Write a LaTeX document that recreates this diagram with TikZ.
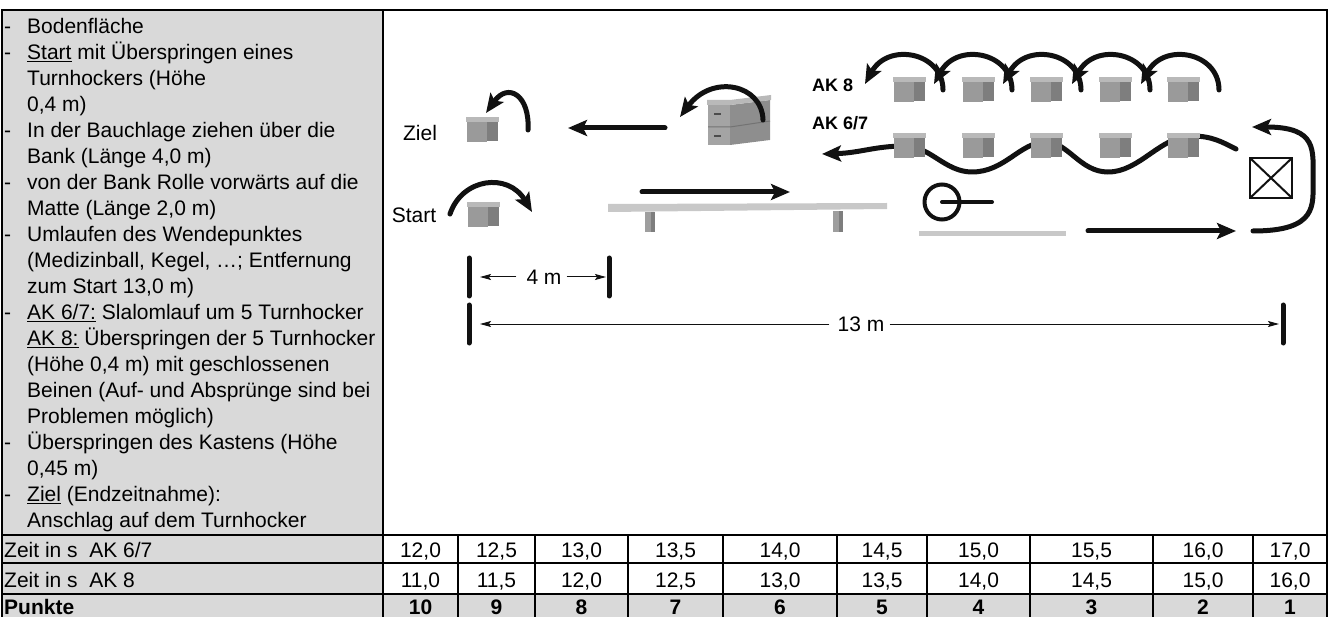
\documentclass[tikz,border=0pt]{standalone}
\usepackage{fontspec}
\setmainfont{Liberation Sans}
\usetikzlibrary{arrows.meta}

\definecolor{zellgrau}{HTML}{D9D9D9}
\definecolor{hockerdeckel}{HTML}{B9B9B9}
\definecolor{hockerfront}{HTML}{9A9A9A}
\definecolor{hockerseite}{HTML}{7E7E7E}
\definecolor{kastenseite}{HTML}{8E8E8E}
\definecolor{bankgrau}{HTML}{C8C8C8}
\definecolor{beingrau}{HTML}{9E9E9E}
\definecolor{laufschwarz}{HTML}{111111}

\newcommand{\fliess}{\fontsize{21}{26}\selectfont}
\newcommand{\strich}{\llap{-\hspace{16pt}}}
% Turnhocker, linke obere Ecke bei (#1,#2)
\newcommand{\turnhocker}[2]{%
  \begin{scope}[shift={(#1,#2)}]
    \fill[hockerfront] (1,5) rectangle (21,25);
    \fill[hockerseite] (21,5) rectangle (32,24);
    \fill[hockerdeckel] (0,0) rectangle (33,5);
  \end{scope}}

\tikzset{every node/.style={inner sep=0pt, font=\fliess},
 lauf/.style={draw=laufschwarz, line width=5pt, line cap=round,
   -{Stealth[length=19pt,width=16pt,inset=4pt]}},
 mass/.style={draw=laufschwarz, line width=1pt,
   -{Stealth[length=11pt,width=6pt,inset=2pt]}},
 marke/.style={draw=laufschwarz, line width=5pt, line cap=round},
 rahmen/.style={draw=black, line width=2pt},
 gitter/.style={draw=black, line width=1.5pt},
 ak/.style={font=\fontsize{18}{20}\selectfont\bfseries},
 }

\begin{document}
\begin{tikzpicture}[x=1pt,y=-1pt]
  \useasboundingbox (0,0) rectangle (1332,617);

  % Tabelle
  \fill[zellgrau] (2,10) rectangle (383,617);
  \fill[zellgrau] (383,594) rectangle (1327,617);
  \draw[gitter] (2,535) -- (1327,535);
  \draw[gitter] (2,563) -- (1327,563);
  \draw[gitter] (2,594) -- (1327,594);
  \foreach \x in {458,535,628,723,837,927,1030,1153,1253}
    \draw[gitter] (\x,535) -- (\x,617);
  \draw[rahmen] (2,617) -- (2,10) -- (1327,10) -- (1327,617);
  \draw[rahmen] (383,10) -- (383,617);

  \node[anchor=north west, align=left] (liste) at (27,15.5) {%
    \strich\strut Bodenfläche\\
    \strich\underline{Start} mit Überspringen eines\\
    Turnhockers (Höhe\\
    0,4 m)\\
    \strich In der Bauchlage ziehen über die\\
    Bank (Länge 4,0 m)\\
    \strich von der Bank Rolle vorwärts auf die\\
    Matte (Länge 2,0 m)\\
    \strich Umlaufen des Wendepunktes\\
    (Medizinball, Kegel, …; Entfernung\\
    zum Start 13,0 m)\\
    \strich\underline{AK 6/7:} Slalomlauf um 5 Turnhocker\\
    \underline{AK 8:} Überspringen der 5 Turnhocker\\
    (Höhe 0,4 m) mit geschlossenen\\
    Beinen (Auf- und Absprünge sind bei\\
    Problemen möglich)\\
    \strich Überspringen des Kastens (Höhe\\
    0,45 m)\\
    \strich\underline{Ziel} (Endzeitnahme):\\
    Anschlag auf dem Turnhocker};

  \node[anchor=base west] (zeit67) at (4,557) {Zeit in s\ \ AK 6/7};
  \node[anchor=base west] (zeit8) at (4,587) {Zeit in s\ \ AK 8};
  \node[anchor=base west, font=\fliess\bfseries] (punkte) at (4,614) {Punkte};

  \foreach \x/\a/\b/\p in {420.5/{12,0}/{11,0}/10, 496.5/{12,5}/{11,5}/9,
      581.5/{13,0}/{12,0}/8, 675.5/{13,5}/{12,5}/7, 780/{14,0}/{13,0}/6,
      882/{14,5}/{13,5}/5, 978.5/{15,0}/{14,0}/4, 1091.5/{15,5}/{14,5}/3,
      1203/{16,0}/{15,0}/2, 1290/{17,0}/{16,0}/1} {
    \node[anchor=base] at (\x,557) {\a};
    \node[anchor=base] at (\x,587) {\b};
    \node[anchor=base, font=\fliess\bfseries] at (\x,614) {\p};
  }

  % Start und Ziel
  \node (ziel) at (420,133) {Ziel};
  \node (start) at (414,215) {Start};
  \turnhocker{466}{117}
  \turnhocker{467}{202}
  \draw[lauf] (528,130) .. controls (530,95) and (508,82) .. (486,113);
  \draw[lauf] (450,214) .. controls (462,178) and (508,172) .. (532,212);

  % Bank
  \fill[bankgrau] (608,204) -- (887,203) -- (887,209) -- (608,212) -- cycle;
  \fill[beingrau] (645,212) rectangle (655,232);
  \fill[hockerseite] (651,212) rectangle (655,232);
  \fill[beingrau] (833,211) rectangle (843,232);
  \fill[hockerseite] (839,211) rectangle (843,232);
  \draw[lauf] (642,192) -- (790,192);

  % Kasten
  \fill[hockerfront!90!white] (708,105) rectangle (730,145);
  \fill[kastenseite] (730,105) -- (770,100) -- (770,140) -- (730,145) -- cycle;
  \fill[hockerdeckel] (707,100) -- (730,100) -- (771,95) -- (771,100) -- (730,105) -- (707,105) -- cycle;
  \draw[black!55, line width=1pt] (708,127) -- (730,127) -- (770,121);
  \draw[black!70, line width=1.5pt] (714,114) -- (721,114);
  \draw[black!70, line width=1.5pt] (714,136) -- (721,136);
  \draw[lauf] (763,120) .. controls (762,84) and (712,74) .. (680,117);
  \draw[lauf] (665,128) -- (568,128);

  % Rolle auf der Matte
  \fill[bankgrau] (919,231) rectangle (1066,236);
  \draw[laufschwarz, line width=4pt] (942,202) circle[radius=17.5pt];
  \draw[laufschwarz, line width=4pt, line cap=round] (942,202) -- (992,202);
  \draw[lauf] (1088,231) -- (1236,231);

  % Wendepunkt
  \draw[laufschwarz, line width=2.5pt] (1250,158) rectangle (1292,198);
  \draw[laufschwarz, line width=2pt] (1250,158) -- (1292,198);
  \draw[laufschwarz, line width=2pt] (1250,198) -- (1292,158);
  \draw[lauf] (1253,231) .. controls (1318,231) and (1313,205) .. (1313,180)
    .. controls (1313,150) and (1318,127) .. (1252,127);

  % AK 6/7: Slalom
  \node[ak, anchor=west] (ak67) at (812,123) {AK 6/7};
  \draw[lauf] (1236,149) .. controls (1222,142) and (1212,136) .. (1192,136)
    .. controls (1160,136) and (1140,172) .. (1108,172)
    .. controls (1080,172) and (1068,142) .. (1046,142)
    .. controls (1020,142) and (1005,172) .. (972,172)
    .. controls (945,172) and (930,146) .. (905,146)
    .. controls (875,146) and (860,153) .. (822,154);
  \foreach \x in {893,961.5,1030,1098.5,1167} {\turnhocker{\x}{133}}

  % AK 8: Sprünge
  \node[ak, anchor=west] (ak8) at (812,85) {AK 8};
  \foreach \x in {893,961.5,1030,1098.5,1167} {\turnhocker{\x}{77}}
  \foreach \t in {943,1012,1081,1150,1219}
    \draw[lauf] (\t,90) .. controls (\t,52) and (\t-55,42) .. (\t-78,84);

  % Entfernungen
  \coordinate (s4) at (469,277);
  \coordinate (e4) at (609,277);
  \coordinate (s13) at (469,324);
  \coordinate (e13) at (1283,324);
  \draw[marke] (s4) ++(0,-19) -- ++(0,38);
  \draw[marke] (e4) ++(0,-19) -- ++(0,38);
  \draw[marke] (s13) ++(0,-19) -- ++(0,38);
  \draw[marke] (e13) ++(0,-19) -- ++(0,38);
  \node (vier) at (544,277) {4 m};
  \node (dreizehn) at (861,324) {13 m};
  \draw[mass, shorten <=10pt, shorten >=11pt] (vier.west) -- (s4);
  \draw[mass, shorten <=5pt, shorten >=3pt] (vier.east) -- (e4);
  \draw[mass, shorten <=8pt, shorten >=11pt] (dreizehn.west) -- (s13);
  \draw[mass, shorten <=5pt, shorten >=4pt] (dreizehn.east) -- (e13);
\end{tikzpicture}
\end{document}
